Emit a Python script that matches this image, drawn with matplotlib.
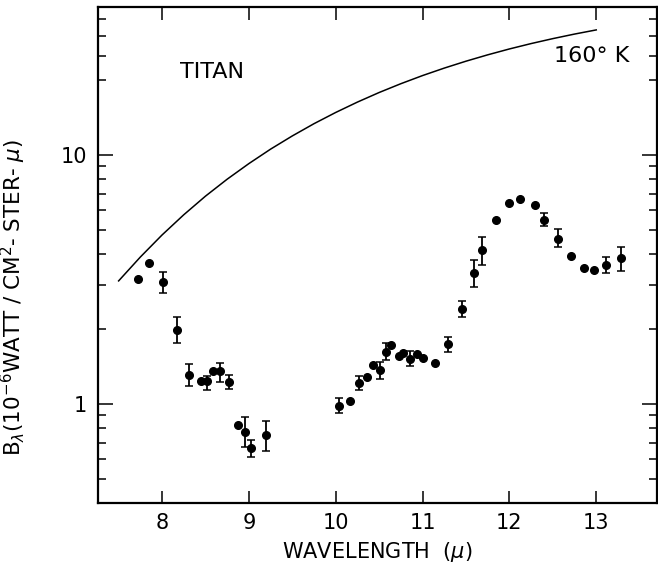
import numpy as np
import matplotlib.pyplot as plt
from matplotlib.ticker import FixedLocator, NullFormatter

FIG_WIDTH_INCHES = 6.58
FIG_HEIGHT_INCHES = 5.67

# measured spectrum of Titan
wavelength = [7.72, 7.85, 8.015, 8.17, 8.315, 8.446, 8.515, 8.59, 8.67, 8.775,
              8.88, 8.96, 9.03, 9.20,
              10.04, 10.16, 10.27, 10.365, 10.435, 10.51, 10.58, 10.635, 10.73,
              10.77, 10.857, 10.934, 11.0, 11.14, 11.29, 11.45, 11.59, 11.69,
              11.85, 11.99, 12.12, 12.29, 12.40, 12.555, 12.71, 12.86, 12.98,
              13.115, 13.28]
flux = [3.18, 3.67, 3.09, 1.99, 1.31, 1.24, 1.24, 1.357, 1.357, 1.23,
        0.82, 0.77, 0.664, 0.753,
        0.984, 1.03, 1.21, 1.288, 1.435, 1.37, 1.62, 1.726, 1.56,
        1.60, 1.52, 1.59, 1.526, 1.46, 1.74, 2.41, 3.36, 4.14,
        5.48, 6.40, 6.66, 6.31, 5.50, 4.60, 3.91, 3.52, 3.46,
        3.63, 3.86]
# error bar ends (nan = no bar drawn)
nan = np.nan
flux_lo = [nan, nan, 2.78, 1.75, 1.18, nan, 1.14, nan, 1.22, 1.15,
           nan, 0.674, 0.611, 0.649,
           0.923, nan, 1.14, nan, nan, 1.26, 1.50, nan, nan,
           nan, 1.42, nan, nan, nan, 1.62, 2.24, 2.96, 3.63,
           nan, nan, nan, nan, 5.20, 4.25, nan, nan, nan,
           3.37, 3.43]
flux_hi = [nan, nan, 3.40, 2.23, 1.45, nan, 1.30, nan, 1.46, 1.31,
           nan, 0.889, 0.717, 0.855,
           1.06, nan, 1.29, nan, nan, 1.48, 1.75, nan, nan,
           nan, 1.63, nan, nan, nan, 1.85, 2.58, 3.79, 4.67,
           nan, nan, nan, nan, 5.83, 5.02, nan, nan, nan,
           3.89, 4.25]

# 160 K curve
curve_wavelength = [7.5, 7.75, 8.0, 8.25, 8.5, 8.75, 9.0, 9.25, 9.5, 9.75,
                    10.0, 10.25, 10.5, 10.75, 11.0, 11.25, 11.5, 11.75, 12.0,
                    12.25, 12.5, 12.75, 13.0]
curve_flux = [3.12, 3.89, 4.77, 5.75, 6.83, 7.99, 9.23, 10.55, 11.92, 13.35,
              14.81, 16.30, 17.81, 19.32, 20.83, 22.32, 23.79, 25.23, 26.64,
              28.00, 29.31, 30.57, 31.77]

x_ticks = [8, 9, 10, 11, 12, 13]
y_major = [1, 10]
y_minor = [0.5, 0.6, 0.7, 0.8, 0.9, 2, 3, 4, 5, 6, 7, 8, 9, 20, 25, 30, 35]

plt.switch_backend('Agg')
plt.rcParams['font.family'] = 'DejaVu Sans'

fig = plt.figure(figsize=(FIG_WIDTH_INCHES, FIG_HEIGHT_INCHES), dpi=100)
ax = fig.add_axes([0.149, 0.1123, 0.8495, 0.876])

ax.plot(curve_wavelength, curve_flux, color='black', linewidth=1.1)

wl = np.array(wavelength)
fl = np.array(flux)
lo = np.array(flux_lo)
hi = np.array(flux_hi)
has_err = ~np.isnan(lo)

ax.errorbar(wl[has_err], fl[has_err],
            yerr=[fl[has_err] - lo[has_err], hi[has_err] - fl[has_err]],
            fmt='o', color='black', markersize=5.5, elinewidth=1.3,
            capsize=2.8, capthick=1.1)
ax.plot(wl[~has_err], fl[~has_err], 'o', color='black', markersize=5.5)

ax.set_yscale('log')
ax.set_xlim(7.263, 13.70)
ax.set_ylim(0.399, 39.4)

ax.xaxis.set_major_locator(FixedLocator(x_ticks))
ax.set_xticklabels([str(t) for t in x_ticks])
ax.xaxis.set_minor_locator(FixedLocator([]))
ax.yaxis.set_major_locator(FixedLocator(y_major))
ax.set_yticklabels(['1', '10'])
ax.yaxis.set_minor_locator(FixedLocator(y_minor))
ax.yaxis.set_minor_formatter(NullFormatter())

ax.tick_params(axis='both', which='both', direction='in', top=True, right=True,
               colors='black', labelsize=15)
ax.tick_params(axis='x', which='major', length=9, width=1.1, pad=7)
ax.tick_params(axis='y', which='major', length=11, width=1.1, pad=8)
ax.tick_params(axis='y', which='minor', length=6, width=1.1)
for spine in ax.spines.values():
    spine.set_linewidth(1.6)

ax.set_xlabel(r'WAVELENGTH  ($\mu$)', fontsize=15, labelpad=5)
ax.set_ylabel(r'B$_\lambda$(10$^{-6}$WATT / CM$^2$- STER- $\mu$)', fontsize=15.5)
ax.yaxis.set_label_coords(-0.125, 0.415)

ax.text(8.58, 21.5, 'TITAN', fontsize=16, ha='center', va='center')
ax.text(12.95, 25.0, '160° K', fontsize=16, ha='center', va='center')

plt.savefig('out.png', dpi=100)
